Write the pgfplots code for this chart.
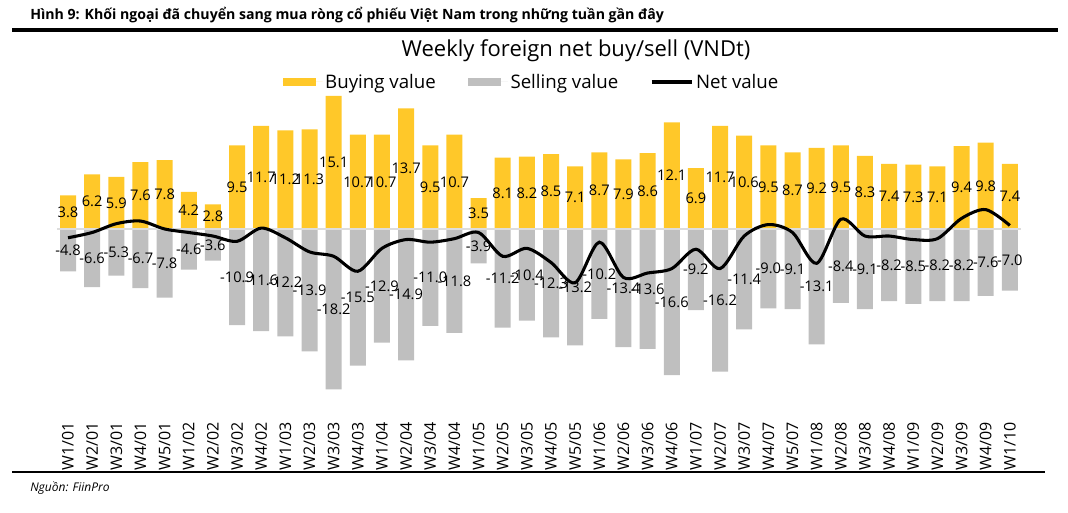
\documentclass[border=0pt]{standalone}
\usepackage{pgfplots}
\usepackage{pgfplotstable}
\pgfplotsset{compat=1.18}
\usepackage{fontspec}
\setmainfont{Open Sans}
\usepackage{graphicx}
\definecolor{buy}{HTML}{FFC829}
\definecolor{sell}{HTML}{BFBFBF}
\definecolor{zeroline}{HTML}{DDDDDD}

\pgfplotstableread{
x buy sell net
0 3.8 -4.8 -1.0
1 6.2 -6.6 -0.4
2 5.9 -5.3 0.6
3 7.6 -6.7 0.9
4 7.8 -7.8 0.0
5 4.2 -4.6 -0.4
6 2.8 -3.6 -0.8
7 9.5 -10.9 -1.4
8 11.7 -11.6 0.1
9 11.2 -12.2 -1.0
10 11.3 -13.9 -2.6
11 15.1 -18.2 -3.1
12 10.7 -15.5 -4.8
13 10.7 -12.9 -2.2
14 13.7 -14.9 -1.2
15 9.5 -11.0 -1.5
16 10.7 -11.8 -1.1
17 3.5 -3.9 -0.4
18 8.1 -11.2 -3.1
19 8.2 -10.4 -2.2
20 8.5 -12.3 -3.8
21 7.1 -13.2 -6.1
22 8.7 -10.2 -1.5
23 7.9 -13.4 -5.5
24 8.6 -13.6 -5.0
25 12.1 -16.6 -4.5
26 6.9 -9.2 -2.3
27 11.7 -16.2 -4.5
28 10.6 -11.4 -0.8
29 9.5 -9.0 0.5
30 8.7 -9.1 -0.4
31 9.2 -13.1 -3.9
32 9.5 -8.4 1.1
33 8.3 -9.1 -0.8
34 7.4 -8.2 -0.8
35 7.3 -8.5 -1.2
36 7.1 -8.2 -1.1
37 9.4 -8.2 1.2
38 9.8 -7.6 2.2
39 7.4 -7.0 0.4
}\data

\begin{document}
\begin{tikzpicture}
% header and footer
\node[anchor=base west, inner sep=0pt] at (22.5pt,369.75pt)
  {\fontsize{10.6}{12}\selectfont\bfseries Hình 9: Khối ngoại đã chuyển sang mua ròng cổ phiếu Việt Nam trong những tuần gần đây};
\draw[line width=2.6pt] (9pt,362.25pt) -- (793.5pt,362.25pt);
\draw[line width=0.8pt] (9pt,30.75pt) -- (783.75pt,30.75pt);
\node[anchor=west, inner sep=0pt] at (22.5pt,18.75pt)
  {\fontsize{9}{11}\selectfont\itshape Nguồn: FiinPro};
\node[anchor=center, inner sep=0pt] at (432pt,346.5pt)
  {\fontsize{16.5}{19}\selectfont Weekly foreign net buy/sell (VNDt)};

\begin{axis}[
  at={(23.85pt,80.85pt)}, anchor=south west,
  scale only axis, width=760.7pt, height=237.9pt,
  xmin=-1.5, xmax=40.5, ymin=-20, ymax=16,
  axis line style={draw=none}, tick style={draw=none},
  ytick=\empty,
  xtick={0,...,39},
  xticklabels={W1/01,W2/01,W3/01,W4/01,W5/01,W1/02,W2/02,W3/02,W4/02,W1/03,W2/03,W3/03,W4/03,W1/04,W2/04,W3/04,W4/04,W1/05,W2/05,W3/05,W4/05,W5/05,W1/06,W2/06,W3/06,W4/06,W1/07,W2/07,W3/07,W4/07,W5/07,W1/08,W2/08,W3/08,W4/08,W1/09,W2/09,W3/09,W4/09,W1/10},
  xticklabel style={rotate=90, anchor=east, font=\fontsize{12}{14}\selectfont},
  xticklabel shift=9pt,
  /pgf/number format/assume math mode=true,
  legend columns=3,
  legend style={draw=none, fill=none, at={(0.493,1)}, anchor=center, yshift=4.5pt,
    font=\fontsize{14}{16}\selectfont,
    /tikz/every even column/.append style={column sep=22pt}},
  clip=false,
]
\addplot[ybar, bar width=12pt, bar shift=0pt, fill=buy, draw=none,
  nodes near coords={\pgfmathprintnumber[fixed,fixed zerofill,precision=1]{\pgfplotspointmeta}},
  point meta=y,
  visualization depends on={y \as \rawy},
  every node near coord/.append style={anchor=center, yshift={-3.304*\rawy}, font=\fontsize{11}{13}\selectfont, text=black, inner sep=0pt},
  legend image code/.code={\fill[buy] (0pt,-3pt) rectangle (25pt,3pt); \path (0pt,0pt) -- (30pt,0pt);}]
  table[x=x,y=buy]{\data};
\addlegendentry{Buying value}
\addplot[ybar, bar width=12pt, bar shift=0pt, fill=sell, draw=none,
  nodes near coords={\pgfmathprintnumber[fixed,fixed zerofill,precision=1]{\pgfplotspointmeta}},
  point meta=y,
  visualization depends on={y \as \rawy},
  every node near coord/.append style={anchor=center, yshift={-3.304*\rawy}, font=\fontsize{11}{13}\selectfont, text=black, inner sep=0pt},
  legend image code/.code={\fill[sell] (0pt,-3pt) rectangle (25pt,3pt); \path (0pt,0pt) -- (30pt,0pt);}]
  table[x=x,y=sell]{\data};
\addlegendentry{Selling value}
\draw[zeroline, line width=1.5pt] (axis cs:-0.45,0) -- (axis cs:39.45,0);
\addplot[black, line width=2.3pt, smooth, mark=none,
  legend image code/.code={\draw[black, line width=2.3pt] (0pt,0pt) -- (25pt,0pt); \path (0pt,0pt) -- (30pt,0pt);}]
  table[x=x,y=net]{\data};
\addlegendentry{Net value}
\end{axis}
\pgfresetboundingbox
\path (0,0) rectangle (801pt,384.75pt);
\end{tikzpicture}
\end{document}
